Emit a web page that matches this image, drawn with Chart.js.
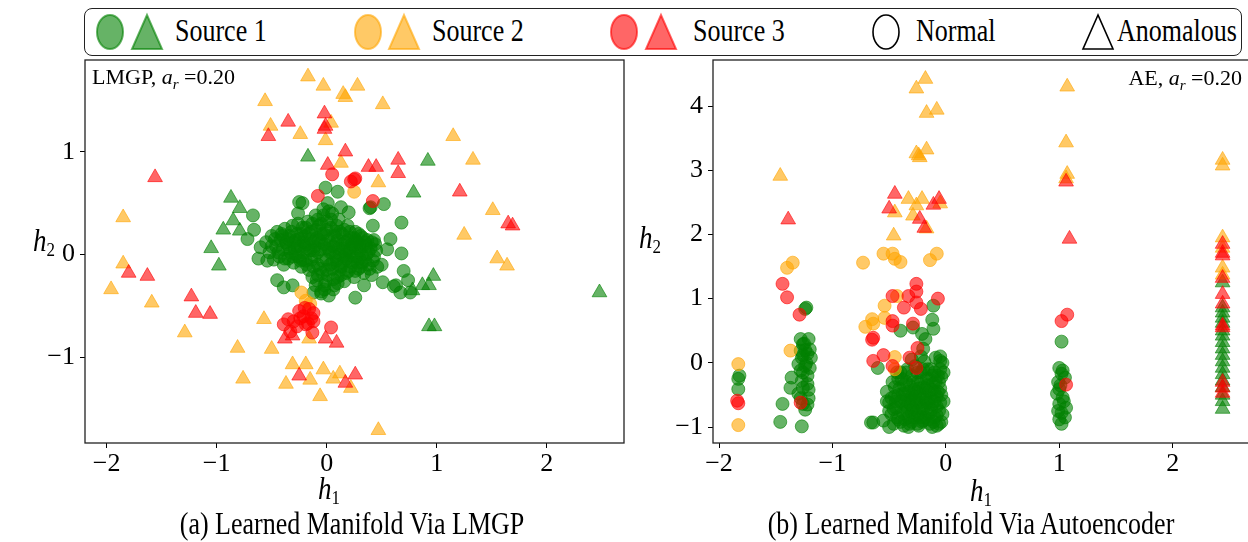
<!DOCTYPE html>
<html>
<head>
<meta charset="utf-8">
<script src="https://cdn.jsdelivr.net/npm/chart.js@4.4.1/dist/chart.umd.min.js"></script>
<style>
  body { margin: 0; width: 1248px; height: 542px; overflow: hidden; background: #fff; position: relative;
         font-family: "Liberation Serif", "Times New Roman", serif; color: #000; }
  canvas { position: absolute; }
  .abs { position: absolute; white-space: nowrap; }
  #legend { position: absolute; left: 84px; top: 8px; width: 1156px; height: 46px; border: 1.5px solid #222; border-radius: 8px; }
  #legend svg { position: absolute; top: 0; }
  #legend span { position: absolute; top: 7px; font-size: 26px; line-height: 30px; transform: scaleY(1.25); }
  .ann { font-size: 22px; line-height: 24px; }
  .ax { font-size: 27px; font-style: italic; line-height: 30px; transform: scaleY(1.15); }
  .ax sub { font-size: 17px; font-style: normal; vertical-align: -5px; }
  .cap { font-size: 26px; line-height: 30px; transform: translateX(-50%) scaleY(1.2); }
</style>
</head>
<body>

<div id="legend">
  <svg width="1156" height="46">
    <ellipse cx="25" cy="23" rx="13" ry="17" fill="rgba(0,128,0,0.6)" stroke="rgba(0,128,0,0.6)" stroke-width="2"/>
    <polygon points="62,6 47,40 77,40" fill="rgba(0,128,0,0.6)" stroke="rgba(0,128,0,0.6)" stroke-width="2"/>
    <ellipse cx="283" cy="23" rx="13" ry="17" fill="rgba(255,165,0,0.6)" stroke="rgba(255,165,0,0.6)" stroke-width="2"/>
    <polygon points="319,6 304,40 334,40" fill="rgba(255,165,0,0.6)" stroke="rgba(255,165,0,0.6)" stroke-width="2"/>
    <ellipse cx="539" cy="23" rx="13" ry="17" fill="rgba(255,0,0,0.6)" stroke="rgba(255,0,0,0.6)" stroke-width="2"/>
    <polygon points="576,6 561,40 591,40" fill="rgba(255,0,0,0.6)" stroke="rgba(255,0,0,0.6)" stroke-width="2"/>
    <ellipse cx="801" cy="23" rx="13" ry="17" fill="none" stroke="#000" stroke-width="1.6"/>
    <polygon points="1013,6 998,40 1028,40" fill="none" stroke="#000" stroke-width="1.6"/>
  </svg>
  <span style="left:90px">Source 1</span>
  <span style="left:347px">Source 2</span>
  <span style="left:608px">Source 3</span>
  <span style="left:831px">Normal</span>
  <span style="left:1032px">Anomalous</span>
</div>

<canvas id="c1" width="640" height="440" style="left:0;top:50px;width:640px;height:440px"></canvas>
<canvas id="c2" width="620" height="440" style="left:640px;top:50px;width:620px;height:440px"></canvas>

<div class="abs ann" style="left:92px;top:65px">LMGP, <i>a<sub style="font-size:15px">r</sub></i> =0.20</div>
<div class="abs ann" style="right:6px;top:66px">AE, <i>a<sub style="font-size:15px">r</sub></i> =0.20</div>

<div class="abs ax" style="left:33px;top:226px">h<sub>2</sub></div>
<div class="abs ax" style="left:639px;top:223px">h<sub>2</sub></div>
<div class="abs ax" style="left:318px;top:474px">h<sub>1</sub></div>
<div class="abs ax" style="left:970px;top:476px">h<sub>1</sub></div>

<div class="abs cap" style="left:352px;top:509px">(a) Learned Manifold Via LMGP</div>
<div class="abs cap" style="left:971px;top:509px">(b) Learned Manifold Via Autoencoder</div>

<script>
// ---- left panel (LMGP) ----
const lmgpXTicks = [-2, -1, 0, 1, 2];
const lmgpYTicks = [-1, 0, 1];

const lmgpS1Normal = [
  // outer ring
  [-0.67,0.38],[-0.66,0.24],[-0.72,0.15],[-0.60,0.07],[-0.62,-0.04],[-0.54,-0.06],[-0.39,-0.32],[-0.31,-0.30],
  [-0.22,0.50],[-0.26,0.40],[-0.01,0.65],[0.10,0.61],[0.01,0.50],[0.13,0.46],[0.20,0.41],[0.40,0.46],[0.52,0.49],
  [0.42,0.28],[0.68,0.31],[0.58,0.15],[0.68,0.01],[0.70,-0.16],[0.51,-0.27],[0.61,-0.31],[0.67,-0.37],[0.74,-0.25],
  [0.76,-0.37],[0.26,-0.42],[0.34,-0.30],[-0.05,-0.38],[-0.12,-0.37],[-0.25,0.51],[0.39,0.45],[0.43,0.14],[0.63,-0.30],
  [-0.45,-0.25],[0.50,-0.10],[0.55,0.05],
  // dense core
  [-0.55,0.12],[-0.52,0.02],[-0.50,0.18],[-0.48,-0.05],[-0.46,0.08],[-0.45,0.22],[-0.43,-0.02],[-0.42,0.14],
  [-0.40,0.05],[-0.39,-0.10],[-0.38,0.25],[-0.36,0.10],[-0.35,-0.04],[-0.34,0.18],[-0.33,0.02],[-0.31,0.28],
  [-0.30,-0.08],[-0.30,0.12],[-0.29,0.06],[-0.27,0.20],[-0.26,-0.02],[-0.25,0.15],[-0.24,0.08],[-0.23,-0.12],
  [-0.22,0.26],[-0.21,0.02],[-0.20,0.18],[-0.19,-0.06],[-0.18,0.10],[-0.17,0.32],[-0.16,-0.15],[-0.15,0.04],
  [-0.14,0.22],[-0.13,-0.22],[-0.12,0.12],[-0.11,-0.02],[-0.10,0.38],[-0.10,-0.30],[-0.09,0.16],[-0.08,-0.10],
  [-0.07,0.28],[-0.06,0.05],[-0.05,-0.36],[-0.05,0.20],[-0.04,-0.18],[-0.03,0.44],[-0.02,0.10],[-0.01,-0.26],
  [0.00,0.32],[0.00,-0.05],[0.01,0.18],[0.02,-0.40],[0.03,0.02],[0.04,0.26],[0.05,-0.14],[0.05,0.40],[0.06,0.08],
  [0.07,-0.30],[0.08,0.22],[0.09,-0.06],[0.10,0.14],[0.10,-0.22],[0.11,0.34],[0.12,0.00],
  [0.13,-0.12],[0.14,0.20],[0.15,0.06],[0.16,-0.26],[0.17,0.12],[0.18,-0.04],[0.19,0.28],[0.20,-0.16],[0.21,0.02],
  [0.22,0.16],[0.23,-0.08],[0.24,0.08],[0.25,-0.22],[0.26,0.22],[0.27,-0.02],[0.28,0.12],[0.29,-0.14],[0.30,0.04],
  [0.31,0.18],[0.32,-0.08],[0.33,0.08],[0.34,-0.18],[0.36,0.00],[0.37,0.14],[0.38,-0.10],[0.40,0.06],[0.41,-0.20],
  [0.43,-0.02],[0.44,0.10],[0.46,-0.12],
  [-0.35,0.15],[-0.28,0.00],[-0.20,0.08],[-0.12,0.04],[-0.05,0.12],[0.02,0.05],[0.08,0.10],[0.15,-0.02],[0.22,0.06],
  [0.30,-0.04],[-0.40,0.18],[-0.15,0.15],[0.05,-0.08],[0.18,0.04],[0.26,0.14],[-0.08,-0.20],[0.00,-0.15],[0.12,-0.15],
  [-0.22,-0.05],[0.35,0.12],
  [-0.50,0.08],[-0.47,0.15],[-0.44,0.02],[-0.41,0.20],[-0.38,-0.04],[-0.37,0.12],[-0.34,0.06],[-0.32,0.22],[-0.31,-0.02],
  [-0.28,0.14],[-0.27,0.08],[-0.26,0.30],[-0.24,-0.06],[-0.23,0.20],[-0.21,0.12],[-0.19,0.26],[-0.18,-0.10],[-0.17,0.06],
  [-0.16,0.20],[-0.14,-0.05],[-0.13,0.30],[-0.12,-0.12],[-0.11,0.08],[-0.10,0.24],[-0.09,-0.25],[-0.08,0.02],[-0.07,0.14],
  [-0.06,-0.14],[-0.05,0.30],[-0.04,-0.06],[-0.03,0.20],[-0.02,-0.30],[-0.01,0.06],[0.00,0.24],[0.01,-0.20],[0.02,0.14],
  [0.03,-0.10],[0.04,0.34],[0.05,0.02],[0.06,-0.24],[0.07,0.18],[0.08,-0.02],[0.09,0.28],[0.10,-0.10],[0.11,0.06],
  [0.12,0.22],[0.13,-0.20],[0.14,0.10],[0.15,-0.08],[0.16,0.24],[0.17,0.00],[0.18,-0.18],[0.19,0.14],[0.20,-0.06],
  [0.21,0.22],[0.22,-0.12],[0.23,0.10],[0.24,-0.02],[0.25,0.16],[0.26,-0.16],[0.27,0.06],[0.28,-0.08],[0.29,0.20],
  [0.30,0.10],[0.31,-0.12],[0.32,0.00],[0.33,0.16],[0.35,-0.06],[0.36,0.08],[0.38,0.02],[0.39,-0.14],[0.41,0.12],
  [0.42,-0.06],[0.45,0.04],[-0.03,0.38],[0.02,0.42],[-0.08,0.34],[0.06,-0.34],[-0.02,-0.34],[0.10,-0.28]
];
const lmgpS1Anom = [
  [-0.17,0.95],[-0.87,0.55],[-0.79,0.45],[-0.85,0.33],[-0.94,0.24],[-0.79,0.23],[-1.05,0.06],[-0.98,-0.11],
  [0.92,0.91],[0.79,0.60],[0.97,-0.21],[0.87,-0.30],[0.93,-0.30],[0.78,-0.35],[0.93,-0.70],[0.98,-0.70],[2.48,-0.37]
];
const lmgpS2Normal = [[0.25,0.61],[-0.23,-0.37],[-0.19,-0.45],[-0.15,-0.48]];
const lmgpS2Anom = [
  [-0.17,1.73],[-0.03,1.64],[0.15,1.56],[0.17,1.53],[0.28,1.64],[-0.56,1.49],[0.51,1.46],[-0.51,1.25],[-0.24,1.17],
  [-0.01,1.11],[0.04,1.28],[0.13,0.89],[0.47,0.70],[-1.85,0.36],[1.15,1.15],[1.33,0.92],[1.51,0.43],[1.25,0.19],
  [1.55,-0.04],[1.64,-0.11],[-1.85,-0.09],[-1.96,-0.34],[-1.59,-0.47],[-1.29,-0.76],[-0.81,-0.91],[-0.76,-1.21],
  [-0.57,-0.63],[-0.50,-0.92],[-0.31,-1.07],[-0.19,-1.07],[-0.03,-1.12],[-0.37,-1.26],[-0.15,-1.22],[-0.16,-0.82],
  [-0.06,-1.38],[0.06,-1.21],[0.12,-1.16],[0.22,-1.30],[0.47,-1.71]
];
const lmgpS3Normal = [
  [0.05,0.78],[-0.08,0.57],[0.22,0.71],[0.25,0.73],[0.26,0.74],[0.42,0.52],
  [-0.39,-0.68],[-0.35,-0.63],[-0.30,-0.65],[-0.25,-0.55],[-0.21,-0.60],[-0.16,-0.53],[-0.12,-0.57],[-0.12,-0.65],
  [-0.17,-0.67],[-0.13,-0.76],[0.04,-0.71],[-0.33,-0.75],[-0.24,-0.62],[-0.19,-0.68],[-0.27,-0.70],[-0.20,-0.52],[-0.14,-0.62]
];
const lmgpS3Anom = [
  [-0.35,1.29],[-0.02,1.37],[-0.02,1.22],[-0.01,1.25],[-0.53,1.15],[0.17,1.00],[0.01,0.87],[-1.56,0.75],[0.38,0.85],
  [0.45,0.85],[0.65,0.92],[0.65,0.79],[1.21,0.61],[1.65,0.30],[1.69,0.28],[-1.80,-0.18],[-1.63,-0.21],[-1.23,-0.41],
  [-1.19,-0.57],[-1.06,-0.58],[-0.38,-0.82],[-0.31,-0.79],[-0.01,-0.82],[0.09,-0.86],[-0.25,-1.18],[0.17,-1.25],[0.26,-1.17]
];

// ---- right panel (AE) ----
const aeXTicks = [-2, -1, 0, 1, 2];
const aeYTicks = [-1, 0, 1, 2, 3, 4];

const aeS1Normal = [
  [-1.82,-0.20],[-1.83,-0.25],[-1.83,-0.41],
  [-1.23,0.86],[-1.24,0.84],
  [-1.28,0.37],[-1.21,0.37],[-1.26,0.29],[-1.20,0.21],[-1.28,0.19],[-1.22,0.14],[-1.27,0.08],[-1.19,0.08],[-1.30,-0.02],
  [-1.24,-0.05],[-1.20,-0.08],[-1.28,-0.12],[-1.22,-0.20],[-1.27,-0.28],[-1.22,-0.33],[-1.26,-0.39],[-1.30,-0.48],
  [-1.21,-0.55],[-1.26,-0.64],[-1.24,-0.73],[-1.36,-0.23],[-1.37,-0.39],[-1.44,-0.64],[-1.46,-0.92],[-1.27,-0.99],
  [-1.25,0.30],[-1.23,0.00],[-1.26,-0.15],[-1.21,-0.42],[-1.28,-0.55],[-1.24,0.20],[-1.22,-0.65],[-1.26,0.12],
  [-0.66,-0.93],[-0.64,-0.93],[-0.60,-0.08],
  [-0.40,0.50],[-0.29,0.55],[-0.12,0.67],[-0.11,0.89],[-0.21,0.45],[-0.18,0.37],[-0.20,0.22],[-0.05,0.03],[-0.11,0.53],
  [-0.52,-0.45],[-0.50,-0.62],[-0.48,-0.80],[-0.47,-0.30],[-0.46,-0.95],[-0.45,-0.52],[-0.44,-0.70],[-0.43,-0.15],
  [-0.42,-0.88],[-0.41,-0.40],[-0.40,-0.60],[-0.39,-0.25],[-0.38,-0.78],[-0.37,-0.98],[-0.36,-0.48],[-0.35,-0.68],
  [-0.34,-0.10],[-0.33,-0.85],[-0.32,-0.35],[-0.31,-0.55],[-0.30,-0.92],[-0.30,-0.20],[-0.29,-0.72],[-0.28,-0.42],
  [-0.27,-0.05],[-0.26,-0.62],[-0.25,-0.82],[-0.25,-0.30],[-0.24,-0.98],[-0.23,-0.50],[-0.22,-0.15],[-0.21,-0.70],
  [-0.20,-0.38],[-0.20,-0.90],[-0.19,0.02],[-0.18,-0.58],[-0.17,-0.25],[-0.16,-0.80],[-0.15,-0.45],[-0.14,-0.95],
  [-0.13,-0.10],[-0.12,-0.65],[-0.11,-0.32],[-0.10,-0.85],[-0.09,0.08],[-0.08,-0.52],[-0.07,-0.20],[-0.06,-0.75],
  [-0.05,-0.40],[-0.04,-0.92],[-0.03,0.00],[-0.02,-0.60],
  [-0.40,-0.15],[-0.35,-0.30],[-0.28,-0.58],[-0.22,-0.85],[-0.15,-0.62],[-0.10,-0.45],[-0.33,-0.62],[-0.26,-0.45],
  [-0.18,-0.40],[-0.12,-0.20],[-0.38,-0.48],[-0.30,-0.78],[-0.20,-0.55],[-0.14,-0.78],[-0.08,-0.68],[-0.44,-0.60],
  [-0.36,-0.88],[-0.24,-0.72],[-0.16,-0.10],[-0.06,-0.30],[-0.55,-0.90],[-0.50,-1.00],[-0.12,-1.00],[-0.05,0.10],
  [-0.22,0.10],[-0.08,-0.98],[-0.30,0.05],[-0.02,-0.15],[-0.04,-0.50],[-0.33,-1.00],
  [-0.48,-0.55],[-0.46,-0.72],[-0.45,-0.38],[-0.43,-0.85],[-0.42,-0.50],[-0.40,-0.92],[-0.39,-0.68],[-0.37,-0.35],
  [-0.36,-0.58],[-0.34,-0.75],[-0.33,-0.45],[-0.32,-0.95],[-0.31,-0.65],[-0.29,-0.30],[-0.28,-0.85],[-0.27,-0.52],
  [-0.26,-0.75],[-0.25,-0.95],[-0.24,-0.40],[-0.23,-0.62],[-0.22,-0.30],[-0.21,-0.92],[-0.20,-0.72],[-0.19,-0.48],
  [-0.18,-0.85],[-0.17,-0.62],[-0.16,-0.35],[-0.15,-0.88],[-0.14,-0.55],[-0.13,-0.72],[-0.12,-0.42],[-0.11,-0.92],
  [-0.10,-0.60],[-0.09,-0.30],[-0.08,-0.82],[-0.07,-0.45],[-0.06,-0.95],[-0.05,-0.62],[-0.04,-0.22],[-0.03,-0.80],
  [-0.35,-0.15],[-0.25,-0.15],[-0.15,-0.25],[-0.05,-0.10],[-0.42,-0.25],[-0.50,-0.75],[-0.52,-0.60],[-0.30,-0.50],
  [-0.20,-0.10],[-0.10,-0.15],
  [1.02,0.33],[1.00,-0.08],[1.02,-0.17],[0.99,-0.30],[1.05,-0.23],[0.98,-0.48],[1.03,-0.54],[1.00,-0.64],[1.06,-0.70],
  [0.99,-0.75],[1.05,-0.85],[1.02,-0.95],[1.00,-0.41],[1.01,-0.35],[1.04,-0.60],[1.00,-0.88],[1.03,-0.12],[1.02,-0.78]
];
const aeS1Anom = [
  [2.44,1.25],[2.44,0.86],[2.44,0.78],[2.44,0.70],[2.44,0.62],[2.44,0.50],[2.44,0.42],[2.44,0.32],[2.44,0.22],
  [2.44,0.12],[2.44,0.02],[2.44,-0.08],[2.44,-0.18],[2.44,-0.28],[2.44,-0.38],[2.44,-0.50],[2.44,-0.60],[2.44,-0.72]
];
const aeS2Normal = [
  [-1.83,-0.02],[-1.83,-0.97],[-1.40,1.48],[-1.35,1.56],[-1.37,0.19],[-0.73,1.56],[-0.55,1.70],[-0.47,1.70],[-0.45,1.62],
  [-0.40,1.57],[-0.14,1.60],[-0.08,1.70],[-0.54,0.89],[-0.54,0.70],[-0.65,0.68],[-0.71,0.56],[-0.64,0.61],[-0.43,1.04],
  [-0.45,0.09],[-0.45,-0.10]
];
const aeS2Anom = [
  [-1.46,2.91],[-0.18,4.42],[-0.26,4.27],[-0.17,3.89],[-0.08,3.94],[-0.26,3.26],[-0.23,3.20],[-0.17,3.32],[-0.24,3.23],
  [-0.33,2.55],[-0.21,2.55],[-0.26,2.45],[-0.45,2.34],[-0.29,2.29],[-0.17,2.09],[-0.46,1.98],[-0.05,2.48],
  [1.07,4.30],[1.06,3.43],[1.07,2.94],[1.06,2.87],
  [2.44,3.16],[2.44,3.07],[2.44,1.95],[2.44,1.79],[2.44,1.48],[2.44,1.37]
];
const aeS3Normal = [
  [-1.84,-0.59],[-1.83,-0.63],[-1.44,1.23],[-1.40,1.02],[-1.29,0.75],[-1.28,-0.62],[-0.65,0.36],[-0.64,0.39],[-0.64,0.03],
  [-0.55,0.12],[-0.47,1.04],[-0.47,0.65],[-0.47,0.58],[-0.33,1.04],[-0.37,0.86],[-0.26,1.23],[-0.26,1.11],[-0.26,0.94],
  [-0.22,0.84],[-0.07,1.00],[-0.29,0.61],[-0.25,0.23],[-0.32,0.08],[-0.26,-0.08],[-0.47,-0.05],
  [1.02,0.65],[1.07,0.75],[1.06,-0.34]
];
const aeS3Anom = [
  [-1.39,2.23],[-0.45,2.63],[-0.50,2.40],[-0.23,2.24],[-0.19,2.10],[-0.11,2.46],[-0.06,2.55],[1.06,2.82],[1.09,1.93],
  [2.44,1.85],[2.44,1.71],[2.44,1.67],[2.44,1.32],[2.44,1.07],[2.44,0.92],[2.44,0.58],[2.44,0.55],[2.44,-0.30],
  [2.44,-0.39],[2.44,-0.47]
];

const green = 'rgba(0,128,0,0.6)', orange = 'rgba(255,165,0,0.6)', red = 'rgba(255,0,0,0.6)';
const FONT = "'Liberation Serif', 'Times New Roman', serif";

const toXY = arr => arr.map(p => ({ x: p[0], y: p[1] }));
const fmt = v => v < 0 ? '\u2212' + Math.abs(v) : String(v);

function series(data, color, anom, idx) {
  return {
    data: toXY(data),
    backgroundColor: color,
    borderColor: color,
    borderWidth: 1,
    pointStyle: anom ? 'triangle' : 'circle',
    pointRadius: anom ? 8.5 : 6.5,
    order: 10 - idx   // later ones on top, like matplotlib
  };
}

// box round the plot area, matplotlib style
const framePlugin = {
  id: 'frame',
  afterDatasetsDraw(chart) {
    const { ctx, chartArea: a } = chart;
    ctx.save();
    ctx.strokeStyle = '#222';
    ctx.lineWidth = 1.3;
    ctx.strokeRect(a.left, a.top, a.right - a.left, a.bottom - a.top);
    ctx.restore();
  }
};

function axis(min, max, ticks, fitFn, pad) {
  return {
    type: 'linear', min: min, max: max,
    afterBuildTicks: s => { s.ticks = ticks.map(v => ({ value: v })); },
    afterFit: s => {
      fitFn(s);
      // don't let the edge labels push the plot area around
      s.paddingTop = 0; s.paddingBottom = 0; s.paddingLeft = 0; s.paddingRight = 0;
    },
    ticks: { color: '#000', font: { family: FONT, size: 26 }, padding: pad, autoSkip: false, maxRotation: 0, callback: fmt },
    grid: { drawOnChartArea: false, drawTicks: true, tickLength: 5, color: '#000', tickColor: '#000', tickWidth: 1 },
    border: { display: false }
  };
}

function makeChart(id, sets, xr, yr, xTicks, yTicks, yWidth, rightPad) {
  return new Chart(document.getElementById(id), {
    type: 'scatter',
    data: { datasets: sets },
    options: {
      responsive: false, animation: false, devicePixelRatio: 1,
      layout: { padding: { left: 0, top: 10, right: rightPad, bottom: 0 } },
      plugins: { legend: { display: false }, tooltip: { enabled: false } },
      scales: {
        x: axis(xr[0], xr[1], xTicks, s => { s.height = 47; }, 1),
        y: axis(yr[0], yr[1], yTicks, s => { s.width = yWidth; }, 5)
      }
    },
    plugins: [framePlugin]
  });
}

makeChart('c1', [
  series(lmgpS1Normal, green, false, 0),
  series(lmgpS1Anom, green, true, 1),
  series(lmgpS2Normal, orange, false, 2),
  series(lmgpS2Anom, orange, true, 3),
  series(lmgpS3Normal, red, false, 4),
  series(lmgpS3Anom, red, true, 5)
], [-2.197, 2.703], [-1.834, 1.892], lmgpXTicks, lmgpYTicks, 85, 16);

makeChart('c2', [
  series(aeS1Normal, green, false, 0),
  series(aeS1Anom, green, true, 1),
  series(aeS2Normal, orange, false, 2),
  series(aeS2Anom, orange, true, 3),
  series(aeS3Normal, red, false, 4),
  series(aeS3Anom, red, true, 5)
], [-2.053, 2.686], [-1.249, 4.717], aeXTicks, aeYTicks, 73, 8);
</script>
</body>
</html>
